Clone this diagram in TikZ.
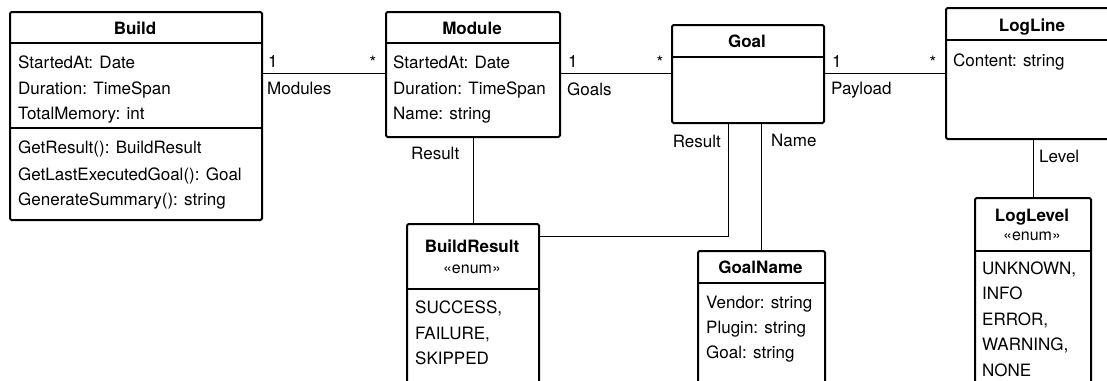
\documentclass[tikz,border=0pt]{standalone}
\usepackage{fontspec}
\setmainfont{TeX Gyre Heros}
\begin{document}
\begin{tikzpicture}[x=1pt,y=-1pt,
  box/.style={draw, line width=2pt, rounded corners=1.5pt, inner sep=0pt, anchor=north west},
  sepline/.style={line width=2pt},
  conn/.style={line width=1pt},
  txt/.style={anchor=base west, inner sep=0pt, font=\fontsize{17}{20}\selectfont},
  ttl/.style={anchor=base, inner sep=0pt, font=\fontsize{17}{20}\selectfont\bfseries},
  ster/.style={anchor=base, inner sep=0pt, font=\fontsize{16}{19}\selectfont},
  mult/.style={anchor=base, inner sep=0pt, font=\fontsize{17}{20}\selectfont}]
\useasboundingbox (0,0) rectangle (1107,380);
\clip (0,0) rectangle (1107,380);

% boxes
\node[box, minimum width=252pt, minimum height=208pt] (build) at (9,11) {};
\node[box, minimum width=174pt, minimum height=125pt] (module) at (385,11) {};
\node[box, minimum width=152pt, minimum height=98pt] (goal) at (671,24) {};
\node[box, minimum width=174pt, minimum height=131pt] (logline) at (945,7) {};
\node[box, minimum width=132pt, minimum height=190pt] (bres) at (406,223) {};
\node[box, minimum width=127pt, minimum height=160pt] (goalname) at (697,250) {};
\node[box, minimum width=116pt, minimum height=210pt] (loglevel) at (974,197) {};

% compartment lines
\draw[sepline] (9,43) -- (261,43);
\draw[sepline] (9,128) -- (261,128);
\draw[sepline] (385,43) -- (559,43);
\draw[sepline] (671,57) -- (823,57);
\draw[sepline] (945,40) -- (1119,40);
\draw[sepline] (406,289) -- (538,289);
\draw[sepline] (697,283) -- (824,283);
\draw[sepline] (974,251) -- (1090,251);

% titles
\node[ttl] (tbuild) at (135,34) {Build};
\node[ttl] (tmodule) at (472,34) {Module};
\node[ttl] (tgoal) at (747,47) {Goal};
\node[ttl] (tlogline) at (1032,31) {LogLine};
\node[ttl] (tbres) at (472,252) {BuildResult};
\node[ster] (sbres) at (472,273) {«enum»};
\node[ttl] (tgoalname) at (760.5,273) {GoalName};
\node[ttl] (tloglevel) at (1032,221) {LogLevel};
\node[ster] (sloglevel) at (1032,240) {«enum»};

% Build members
\node[txt] (b1) at (18,68) {StartedAt: Date};
\node[txt] (b2) at (18,94) {Duration: TimeSpan};
\node[txt] (b3) at (18,119) {TotalMemory: int};
\node[txt] (b4) at (18,153) {GetResult(): BuildResult};
\node[txt] (b5) at (18,180) {GetLastExecutedGoal(): Goal};
\node[txt] (b6) at (18,205) {GenerateSummary(): string};

% Module members
\node[txt] (m1) at (393,68) {StartedAt: Date};
\node[txt] (m2) at (393,94) {Duration: TimeSpan};
\node[txt] (m3) at (393,119) {Name: string};

% LogLine members
\node[txt] (l1) at (953,66) {Content: string};

% BuildResult values
\node[txt] (r1) at (415,313) {SUCCESS,};
\node[txt] (r2) at (415,339) {FAILURE,};
\node[txt] (r3) at (415,364) {SKIPPED};

% GoalName members
\node[txt] (g1) at (706,308) {Vendor: string};
\node[txt] (g2) at (706,333) {Plugin: string};
\node[txt] (g3) at (706,358) {Goal: string};

% LogLevel values
\node[txt] (v1) at (982,274) {UNKNOWN,};
\node[txt] (v2) at (982,299) {INFO};
\node[txt] (v3) at (982,325) {ERROR,};
\node[txt] (v4) at (982,350) {WARNING,};
\node[txt] (v5) at (982,376) {NONE};

% connectors
\coordinate (row) at (0,73);
\coordinate (grx) at (728,0);
\coordinate (gry) at (0,236);
\draw[conn] (build.east |- row) -- (module.west |- row);
\draw[conn] (module.east |- row) -- (goal.west |- row);
\draw[conn] (goal.east |- row) -- (logline.west |- row);
\draw[conn] (module.south) -- (bres.north);
\draw[conn] (goal.south -| grx) |- (bres.east |- gry);
\draw[conn] (goal.south -| goalname.north) -- (goalname.north);
\draw[conn] (logline.south -| loglevel.north) -- (loglevel.north);

% association labels
\node[mult, anchor=base west] (m1a) at (268,67) {1};
\node[mult] (m1b) at (373,68) {*};
\node[txt] (lmod) at (267,94) {Modules};
\node[mult, anchor=base west] (m2a) at (568,67) {1};
\node[mult] (m2b) at (660,68) {*};
\node[txt] (lgoals) at (567,95) {Goals};
\node[mult, anchor=base west] (m3a) at (832,67) {1};
\node[mult] (m3b) at (933,68) {*};
\node[txt] (lpay) at (831,94) {Payload};
\node[txt] (lres1) at (411,159) {Result};
\node[txt, anchor=base east] (lres2) at (721,147) {Result};
\node[txt] (lname) at (771,146) {Name};
\node[txt] (llevel) at (1039,162) {Level};
\end{tikzpicture}
\end{document}
